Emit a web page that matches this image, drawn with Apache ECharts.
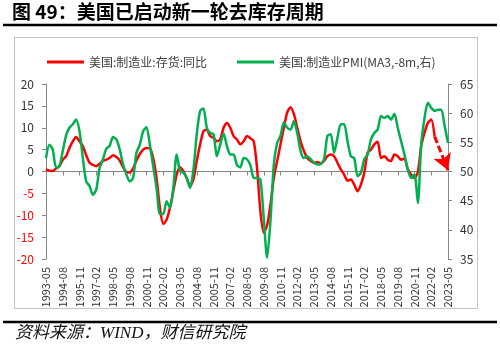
<!DOCTYPE html>
<html>
<head>
<meta charset="utf-8">
<script src="https://cdn.jsdelivr.net/npm/echarts@6/dist/echarts.min.js"></script>
<style>
html,body{margin:0;padding:0;background:#fff;}
#wrap{position:relative;width:500px;height:358px;}
#chart{width:500px;height:358px;}
#frame{position:absolute;left:14px;top:37px;width:462px;height:270px;border:1px solid #C4C4C4;pointer-events:none;}
</style>
</head>
<body>
<div id="wrap"><div id="chart"></div><div id="frame"></div></div>
<script>
// Quarterly categories, 1993-05 .. 2023-05
const categories = [
 '1993-05','1993-08','1993-11',
 '1994-02','1994-05','1994-08','1994-11',
 '1995-02','1995-05','1995-08','1995-11',
 '1996-02','1996-05','1996-08','1996-11',
 '1997-02','1997-05','1997-08','1997-11',
 '1998-02','1998-05','1998-08','1998-11',
 '1999-02','1999-05','1999-08','1999-11',
 '2000-02','2000-05','2000-08','2000-11',
 '2001-02','2001-05','2001-08','2001-11',
 '2002-02','2002-05','2002-08','2002-11',
 '2003-02','2003-05','2003-08','2003-11',
 '2004-02','2004-05','2004-08','2004-11',
 '2005-02','2005-05','2005-08','2005-11',
 '2006-02','2006-05','2006-08','2006-11',
 '2007-02','2007-05','2007-08','2007-11',
 '2008-02','2008-05','2008-08','2008-11',
 '2009-02','2009-05','2009-08','2009-11',
 '2010-02','2010-05','2010-08','2010-11',
 '2011-02','2011-05','2011-08','2011-11',
 '2012-02','2012-05','2012-08','2012-11',
 '2013-02','2013-05','2013-08','2013-11',
 '2014-02','2014-05','2014-08','2014-11',
 '2015-02','2015-05','2015-08','2015-11',
 '2016-02','2016-05','2016-08','2016-11',
 '2017-02','2017-05','2017-08','2017-11',
 '2018-02','2018-05','2018-08','2018-11',
 '2019-02','2019-05','2019-08','2019-11',
 '2020-02','2020-05','2020-08','2020-11',
 '2021-02','2021-05','2021-08','2021-11',
 '2022-02','2022-05','2022-08','2022-11',
 '2023-02','2023-05'
];

// 美国:制造业:存货:同比 (%), left axis
const inventoryYoY = [
 0.5, 0.2, 0.1, 0.7, 1.2, 2.7, 3.5, 5.4, 6.9, 7.9,
 6.9, 5.8, 3.7, 2.0, 1.5, 1.2, 1.8, 2.4, 2.7, 3.1,
 3.7, 3.3, 2.5, 1.0, -0.1, -0.2, 0.7, 2.5, 4.0, 5.0,
 5.4, 5.3, 3.1, -1.5, -8.3, -12.0, -11.0, -8.3, -4.5, -0.7,
 1.0, 0.1, -1.5, -3.4, -1.8, 2.4, 6.2, 9.2, 9.6, 8.1,
 7.7, 6.9, 7.3, 10.0, 11.1, 10.0, 8.1, 7.3, 6.2, 6.9,
 8.1, 7.6, 6.9, 0.8, -9.1, -14.0, -12.3, -7.6, -1.5, 2.4,
 6.2, 10.0, 13.5, 14.7, 13.1, 10.0, 6.9, 4.7, 3.1, 2.4,
 2.0, 2.2, 1.8, 2.4, 3.5, 3.9, 3.5, 2.0, 0.5, -0.7,
 -2.1, -1.8, -3.0, -4.5, -3.0, -0.3, 4.3, 5.0, 6.2, 6.8,
 3.1, 3.5, 2.7, 2.4, 3.9, 3.5, 2.7, 3.0, 0.5, -0.7,
 -1.5, -0.1, 5.8, 8.9, 11.1, 11.9, 8.0, null, null, null,
 null
];

// 美国:制造业PMI (MA3, -8m), right axis
const pmiLead = [
 52.3, 54.6, 53.8, 50.7, 50.9, 53.5, 56.2, 57.5, 58.1, 58.9,
 56.9, 52.3, 48.3, 47.5, 46.0, 46.9, 50.6, 52.1, 53.9, 54.4,
 55.9, 55.5, 53.8, 51.2, 49.5, 48.3, 48.9, 53.2, 54.6, 56.9,
 57.6, 54.6, 50.9, 47.2, 42.7, 42.7, 44.9, 43.8, 47.2, 52.9,
 50.1, 49.8, 48.9, 47.2, 50.3, 56.4, 60.4, 60.8, 57.5, 56.6,
 56.4, 52.6, 54.6, 56.5, 54.4, 52.9, 52.9, 51.1, 50.7, 52.3,
 52.1, 51.1, 48.9, 48.9, 48.6, 42.0, 35.2, 41.5, 51.2, 54.9,
 56.1, 58.4, 57.5, 57.2, 58.6, 56.6, 53.5, 52.3, 52.6, 52.1,
 51.5, 51.2, 51.3, 52.1, 56.1, 56.4, 53.2, 55.8, 58.1, 58.1,
 55.2, 52.6, 52.3, 49.2, 49.8, 52.1, 52.9, 55.5, 56.6, 57.2,
 59.5, 59.2, 59.5, 58.9, 59.9, 57.5, 55.2, 52.9, 50.3, 48.9,
 49.5, 44.6, 54.6, 59.2, 61.8, 60.9, 60.4, 60.6, 60.6, 57.8,
 54.9
];

// dashed arrow: projected inventory path
const arrowFrom = ['2022-05', 8.0];
const arrowTo = ['2023-05', 0.3];

const seriesNames = ['美国:制造业:存货:同比', '美国:制造业PMI(MA3,-8m,右)'];
const title = '图 49：美国已启动新一轮去库存周期';
const source = '资料来源：WIND，财信研究院';

const RED = '#FF0000', GREEN = '#00B050', AX = '#868686', TXT = '#404040';
const FONT = '"Noto Sans CJK SC", "Noto Sans", sans-serif';

const chart = echarts.init(document.getElementById('chart'), null, {renderer: 'canvas'});
chart.setOption({
  animation: false,
  backgroundColor: '#fff',
  textStyle: {fontFamily: FONT},
  grid: {left: 46, right: 52, top: 84, bottom: 99, containLabel: false},
  legend: {
    data: seriesNames,
    left: 42, top: 51,
    icon: 'rect', itemWidth: 37, itemHeight: 3, itemGap: 30,
    textStyle: {fontSize: 12, color: TXT, fontFamily: FONT}
  },
  xAxis: [{
    type: 'category', data: categories, boundaryGap: false, position: 'bottom',
    axisLine: {show: false, onZero: false},
    axisTick: {show: false},
    axisLabel: {interval: 4, rotate: 90, fontSize: 11, color: '#333', margin: 8, fontFamily: FONT}
  }, {
    type: 'category', data: categories, boundaryGap: false, position: 'bottom',
    axisLine: {show: true, onZero: true, onZeroAxisIndex: 0, lineStyle: {color: AX, width: 1}},
    axisTick: {show: true, interval: 4, length: 4, lineStyle: {color: AX}},
    axisLabel: {show: false}
  }],
  yAxis: [{
    type: 'value', min: -20, max: 20, interval: 5, position: 'left',
    axisLine: {show: true, lineStyle: {color: AX}},
    axisTick: {show: true, length: 4, lineStyle: {color: AX}},
    splitLine: {show: false},
    axisLabel: {fontSize: 12, margin: 12, fontFamily: FONT,
      color: function (v) { return Number(v) < 0 ? RED : '#333'; }}
  }, {
    type: 'value', min: 35, max: 65, interval: 5, position: 'right',
    axisLine: {show: true, lineStyle: {color: AX}},
    axisTick: {show: true, length: 4, lineStyle: {color: AX}},
    splitLine: {show: false},
    axisLabel: {fontSize: 12, margin: 12, color: '#333', fontFamily: FONT}
  }],
  series: [{
    name: seriesNames[0], type: 'line', xAxisIndex: 0, yAxisIndex: 0,
    data: inventoryYoY, showSymbol: false, smooth: 0.25, connectNulls: false,
    lineStyle: {color: RED, width: 2.5}, itemStyle: {color: RED},
    markLine: {
      silent: true, symbol: ['none', 'arrow'], symbolSize: [14, 16],
      label: {show: false},
      lineStyle: {color: RED, width: 3, type: [7, 3]},
      data: [[{coord: arrowFrom}, {coord: arrowTo}]]
    }
  }, {
    name: seriesNames[1], type: 'line', xAxisIndex: 0, yAxisIndex: 1,
    data: pmiLead, showSymbol: false, smooth: 0.25,
    lineStyle: {color: GREEN, width: 2.5}, itemStyle: {color: GREEN}
  }],
  graphic: [
    {type: 'text', left: 12, top: 2, style: {text: title, font: 'bold 19px ' + FONT, fill: '#000'}},
    {type: 'line', shape: {x1: 3, y1: 25, x2: 497, y2: 25}, style: {stroke: '#000', lineWidth: 2.5}},
    {type: 'line', shape: {x1: 3, y1: 322, x2: 497, y2: 322}, style: {stroke: '#000', lineWidth: 2.5}},
    {type: 'text', left: 15, top: 325, style: {text: source, font: 'italic 17px "Liberation Serif", "Noto Sans CJK SC", serif', fill: '#111'}}
  ]
});
</script>
</body>
</html>
